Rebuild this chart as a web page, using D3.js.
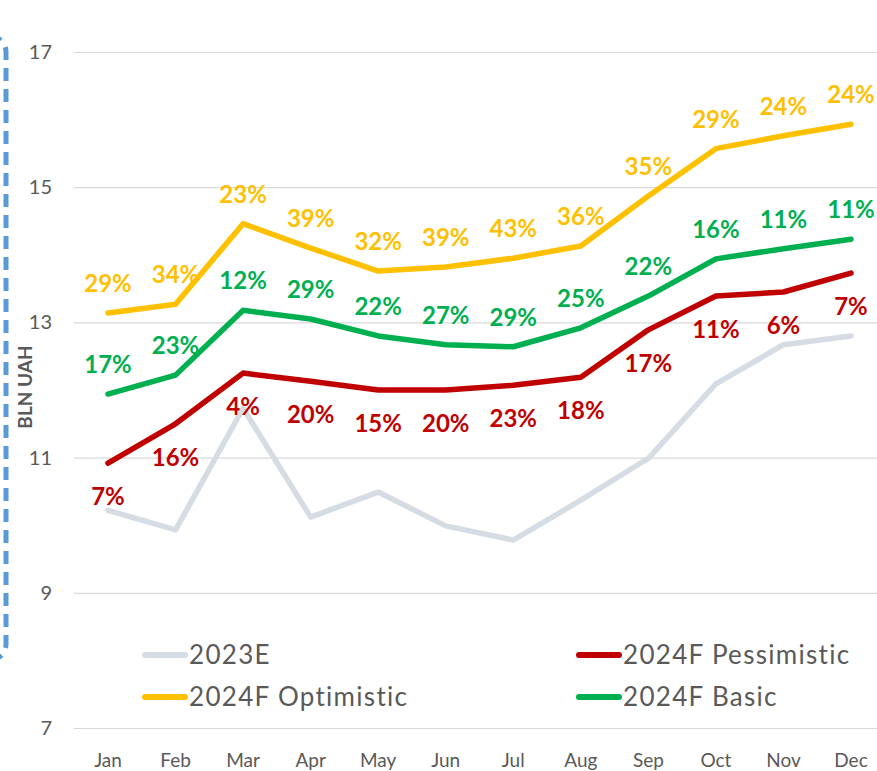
<!DOCTYPE html>
<html>
<head>
<meta charset="utf-8">
<script src="https://cdn.jsdelivr.net/npm/d3@7"></script>
<style>
  html, body { margin: 0; padding: 0; background: #fff; }
  svg { display: block; font-family: Lato, "Open Sans", sans-serif; }
</style>
</head>
<body>
<svg id="chart" width="877" height="771"></svg>
<script>
// months on the x axis
const months = ["Jan", "Feb", "Mar", "Apr", "May", "Jun", "Jul", "Aug", "Sep", "Oct", "Nov", "Dec"]
const yTicks = [7, 9, 11, 13, 15, 17]

// BLN UAH per month
const est2023 = [10.22, 9.93, 11.73, 10.12, 10.49, 9.99, 9.78, 10.37, 10.99, 12.09, 12.67, 12.80]
const pessimistic = [10.92, 11.50, 12.25, 12.13, 12.00, 12.00, 12.07, 12.19, 12.89, 13.39, 13.45, 13.73]
const basic = [11.94, 12.22, 13.18, 13.05, 12.80, 12.67, 12.64, 12.92, 13.39, 13.94, 14.09, 14.23]
const optimistic = [13.14, 13.27, 14.46, 14.10, 13.76, 13.82, 13.95, 14.13, 14.87, 15.57, 15.76, 15.93]

// growth labels
const pessLabels = ["7%", "16%", "4%", "20%", "15%", "20%", "23%", "18%", "17%", "11%", "6%", "7%"]
const basicLabels = ["17%", "23%", "12%", "29%", "22%", "27%", "29%", "25%", "22%", "16%", "11%", "11%"]
const optLabels = ["29%", "34%", "23%", "39%", "32%", "39%", "43%", "36%", "35%", "29%", "24%", "24%"]

const series = [
  {name: "2023E", values: est2023, labels: null, color: "#D6DCE4", pos: null},
  {name: "2024F Pessimistic", values: pessimistic, labels: pessLabels, color: "#C00000", pos: "below"},
  {name: "2024F Basic", values: basic, labels: basicLabels, color: "#00B050", pos: "above"},
  {name: "2024F Optimistic", values: optimistic, labels: optLabels, color: "#FFC000", pos: "above"}
]

const svg = d3.select("#chart")
const x = d3.scalePoint().domain(months).range([108, 851])
const y = d3.scaleLinear().domain([7, 17]).range([728, 52])

// gridlines
svg.append("g").selectAll("line")
  .data(yTicks)
  .join("line")
  .attr("x1", 74).attr("x2", 877)
  .attr("y1", d => y(d) + 0.5).attr("y2", d => y(d) + 0.5)
  .attr("stroke", "#D9D9D9").attr("stroke-width", 1.2)

// y tick labels
svg.append("g").selectAll("text")
  .data(yTicks)
  .join("text")
  .attr("x", 52).attr("y", d => y(d) + 7)
  .attr("text-anchor", "end")
  .attr("font-size", 20)
  .attr("fill", "#595959")
  .text(d => d)

// x tick labels
svg.append("g").selectAll("text")
  .data(months)
  .join("text")
  .attr("x", d => x(d)).attr("y", 767)
  .attr("text-anchor", "middle")
  .attr("font-size", 19)
  .attr("fill", "#595959")
  .text(d => d)

// axis title
svg.append("text")
  .attr("transform", "translate(32,387) rotate(-90)")
  .attr("text-anchor", "middle")
  .attr("font-size", 19)
  .attr("font-weight", "bold")
  .attr("fill", "#595959")
  .text("BLN UAH")

// dashed blue frame poking in from the left
svg.append("rect")
  .attr("x", -300).attr("y", 36)
  .attr("width", 306).attr("height", 624)
  .attr("rx", 16)
  .attr("fill", "none")
  .attr("stroke", "#5B9BD5")
  .attr("stroke-width", 5)
  .attr("stroke-dasharray", "13,8")

const line = d3.line()
  .x((d, i) => x(months[i]))
  .y(d => y(d))

svg.append("g").selectAll("path")
  .data(series)
  .join("path")
  .attr("d", d => line(d.values))
  .attr("fill", "none")
  .attr("stroke", d => d.color)
  .attr("stroke-width", 5.5)
  .attr("stroke-linejoin", "round")
  .attr("stroke-linecap", "round")

// data labels
series.filter(s => s.labels).forEach(s => {
  svg.append("g").selectAll("text")
    .data(s.values)
    .join("text")
    .attr("x", (d, i) => x(months[i]))
    .attr("y", d => s.pos === "above" ? y(d) - 30 + 9 : y(d) + 33 + 9)
    .attr("text-anchor", "middle")
    .attr("font-size", 24)
    .attr("font-weight", "bold")
    .attr("fill", s.color)
    .text((d, i) => s.labels[i])
})

// legend
const legendItems = [
  {s: series[0], x: 143, y: 655},
  {s: series[3], x: 143, y: 697},
  {s: series[1], x: 577, y: 655},
  {s: series[2], x: 577, y: 697}
]
const lg = svg.append("g").selectAll("g")
  .data(legendItems)
  .join("g")
  .attr("transform", d => `translate(${d.x},${d.y})`)
lg.append("line")
  .attr("x1", 2).attr("x2", 42)
  .attr("stroke", d => d.s.color)
  .attr("stroke-width", 6)
  .attr("stroke-linecap", "round")
lg.append("text")
  .attr("x", 46).attr("y", 9)
  .attr("font-size", 26)
  .attr("letter-spacing", 1.3)
  .attr("fill", "#595959")
  .text(d => d.s.name)
</script>
</body>
</html>
